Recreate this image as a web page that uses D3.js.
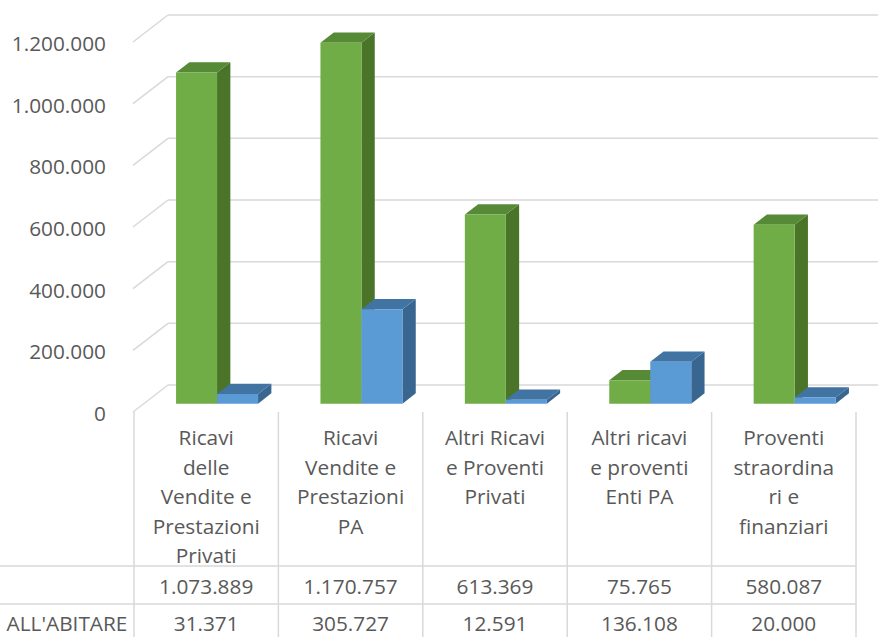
<!DOCTYPE html>
<html>
<head>
<meta charset="utf-8">
<script src="https://cdn.jsdelivr.net/npm/d3@7"></script>
<style>
  html, body { margin: 0; padding: 0; background: #fff; }
  svg { display: block; }
  text { font-family: "Open Sans", sans-serif; fill: #595959; }
</style>
</head>
<body>
<svg id="chart" width="878" height="637"></svg>
<script>
// Categories (pre-wrapped as they appear in the data table)
const categories = [
  "Ricavi delle Vendite e Prestazioni Privati",
  "Ricavi Vendite e Prestazioni PA",
  "Altri Ricavi e Proventi Privati",
  "Altri ricavi e proventi Enti PA",
  "Proventi straordinari e finanziari"
];
const categoryLines = [
  ["Ricavi", "delle", "Vendite e", "Prestazioni", "Privati"],
  ["Ricavi", "Vendite e", "Prestazioni", "PA"],
  ["Altri Ricavi", "e Proventi", "Privati"],
  ["Altri ricavi", "e proventi", "Enti PA"],
  ["Proventi", "straordina", "ri e", "finanziari"]
];
const seriesNames = ["", "ALL'ABITARE"];
const seriesA = [1073889, 1170757, 613369, 75765, 580087];
const seriesB = [31371, 305727, 12591, 136108, 20000];
const yTicks = [0, 200000, 400000, 600000, 800000, 1000000, 1200000];

const svg = d3.select("#chart");
const W = 878, H = 637;
const FS = 20.8;

// Front plane geometry and depth vector of the 3D box
const x0 = 134, x1 = 856;
const baseY = 412;
const DX = 35, DY = -27;
const depthFront = 0.31, depthBack = 0.69;

const y = d3.scaleLinear().domain([0, 1200000]).range([0, 370]);
const x = d3.scaleBand().domain(categories).range([x0, x1]).padding(0);
const barW = 41;

const loc = d3.formatLocale({ decimal: ",", thousands: ".", grouping: [3], currency: ["€", ""] });
const fmt = loc.format(",d");

// project a point (front x, value, depth fraction) to screen
function P(xf, v, d) {
  return [xf + d * DX, baseY - y(v) + d * DY];
}

const grid = svg.append("g");
const gridColor = "#d9d9d9";
yTicks.forEach(t => {
  const a = P(x0 - 1, t, 0), b = P(x0 - 1, t, 1);
  grid.append("line")
    .attr("x1", a[0]).attr("y1", a[1]).attr("x2", b[0]).attr("y2", b[1])
    .attr("stroke", gridColor).attr("stroke-width", 1.5);
  grid.append("line")
    .attr("x1", b[0]).attr("y1", b[1]).attr("x2", W).attr("y2", b[1])
    .attr("stroke", gridColor).attr("stroke-width", 1.5);
});

// Y axis labels
svg.append("g").selectAll("text").data(yTicks).join("text")
  .attr("x", 106)
  .attr("y", d => baseY - y(d) + 1)
  .attr("text-anchor", "end")
  .attr("dominant-baseline", "central")
  .attr("font-size", FS)
  .text(d => fmt(d));

// 3D columns
const series = [
  { values: seriesA, front: "#70ad47", top: "#568a36", side: "#4a7529" },
  { values: seriesB, front: "#5b9bd5", top: "#4174a2", side: "#396690" }
];
const sub = d3.scaleBand().domain([0, 1]).range([-barW, barW]).padding(0);

const bars = svg.append("g");
categories.forEach((c, i) => {
  const cx = x(c) + x.bandwidth() / 2;
  series.forEach((s, k) => {
    const v = s.values[i];
    const xl = cx + sub(k), xr = xl + sub.bandwidth();
    const fbl = P(xl, 0, depthFront), fbr = P(xr, 0, depthFront);
    const ftl = P(xl, v, depthFront), ftr = P(xr, v, depthFront);
    const btl = P(xl, v, depthBack), btr = P(xr, v, depthBack);
    const bbr = P(xr, 0, depthBack);
    const poly = pts => pts.map(p => p.join(",")).join(" ");
    // right side
    bars.append("polygon").attr("points", poly([fbr, ftr, btr, bbr])).attr("fill", s.side);
    // top
    bars.append("polygon").attr("points", poly([ftl, ftr, btr, btl])).attr("fill", s.top);
    // front
    bars.append("polygon").attr("points", poly([fbl, fbr, ftr, ftl])).attr("fill", s.front);
  });
});

// Data table
const table = svg.append("g");
const rowTop = 566, rowMid = 604;
const colEdges = categories.map(c => x(c)).concat([x1]);
colEdges.forEach(e => {
  table.append("line").attr("x1", e).attr("x2", e).attr("y1", baseY).attr("y2", H)
    .attr("stroke", gridColor).attr("stroke-width", 1.5);
});
[rowTop, rowMid].forEach(r => {
  table.append("line").attr("x1", 0).attr("x2", x1).attr("y1", r).attr("y2", r)
    .attr("stroke", gridColor).attr("stroke-width", 1.5);
});

categories.forEach((c, i) => {
  const cx = x(c) + x.bandwidth() / 2;
  categoryLines[i].forEach((line, j) => {
    table.append("text")
      .attr("x", cx).attr("y", 437 + j * 29.5)
      .attr("text-anchor", "middle").attr("dominant-baseline", "central")
      .attr("font-size", FS).text(line);
  });
  table.append("text")
    .attr("x", cx).attr("y", 586)
    .attr("text-anchor", "middle").attr("dominant-baseline", "central")
    .attr("font-size", FS).text(fmt(seriesA[i]));
  table.append("text")
    .attr("x", cx).attr("y", 623)
    .attr("text-anchor", "middle").attr("dominant-baseline", "central")
    .attr("font-size", FS).text(fmt(seriesB[i]));
});

// Series names
[586, 623].forEach((yy, k) => {
  table.append("text")
    .attr("x", x0 / 2).attr("y", yy)
    .attr("text-anchor", "middle").attr("dominant-baseline", "central")
    .attr("font-size", FS).text(seriesNames[k]);
});
</script>
</body>
</html>
